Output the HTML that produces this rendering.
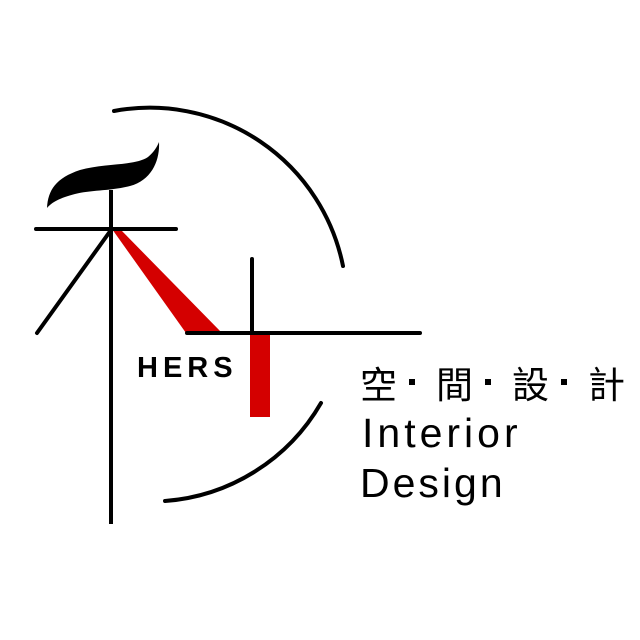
<!DOCTYPE html>
<html><head><meta charset="utf-8"><style>
html,body{margin:0;padding:0;background:#fff;}
svg{display:block;}
</style></head><body>
<svg width="640" height="640" viewBox="0 0 640 640" xmlns="http://www.w3.org/2000/svg">
<rect width="640" height="640" fill="#fff"/>
<path d="M114 111 A197 197 0 0 1 343 266" fill="none" stroke="#000" stroke-width="4" stroke-linecap="round"/>
<path d="M321 403 A197 197 0 0 1 165 501" fill="none" stroke="#000" stroke-width="4" stroke-linecap="round"/>
<!-- brush -->
<path d="M47 208 C48 190 56 178 80 170 C105 163 135 166 148 157 C154 152 157 147 159 142 C160 160 152 180 130 186 C110 191 90 190 75 194 C60 198 52 202 47 208 Z" fill="#000"/>
<polygon points="112,229 120,229 222,333 186,333" fill="#d40000"/>
<rect x="250" y="334" width="20" height="83" fill="#d40000"/>
<line x1="111" y1="190" x2="111" y2="524" stroke="#000" stroke-width="4"/>
<line x1="36" y1="229" x2="176" y2="229" stroke="#000" stroke-width="4" stroke-linecap="round"/>
<line x1="111" y1="230" x2="37" y2="333" stroke="#000" stroke-width="4" stroke-linecap="round"/>
<line x1="187" y1="333" x2="420" y2="333" stroke="#000" stroke-width="4" stroke-linecap="round"/>
<line x1="252" y1="259" x2="252" y2="333" stroke="#000" stroke-width="4" stroke-linecap="round"/>
<text x="137" y="377" font-family="Liberation Sans, sans-serif" font-weight="bold" font-size="29" letter-spacing="5" fill="#000">HERS</text>
<g font-family="Liberation Sans, Noto Sans CJK TC, sans-serif" font-size="37" fill="#000">
<text x="360" y="398">空</text>
<text x="436" y="398">間</text>
<text x="512" y="398">設</text>
<text x="588" y="398">計</text>
</g>
<rect x="409" y="379" width="6" height="6" fill="#000"/>
<rect x="485" y="379" width="6" height="6" fill="#000"/>
<rect x="561" y="379" width="6" height="6" fill="#000"/>
<text x="362" y="447" font-family="Liberation Sans, sans-serif" font-size="41" letter-spacing="4" fill="#000">Interior</text>
<text x="360" y="497" font-family="Liberation Sans, sans-serif" font-size="41" letter-spacing="3" fill="#000">Design</text>
</svg>
</body></html>
